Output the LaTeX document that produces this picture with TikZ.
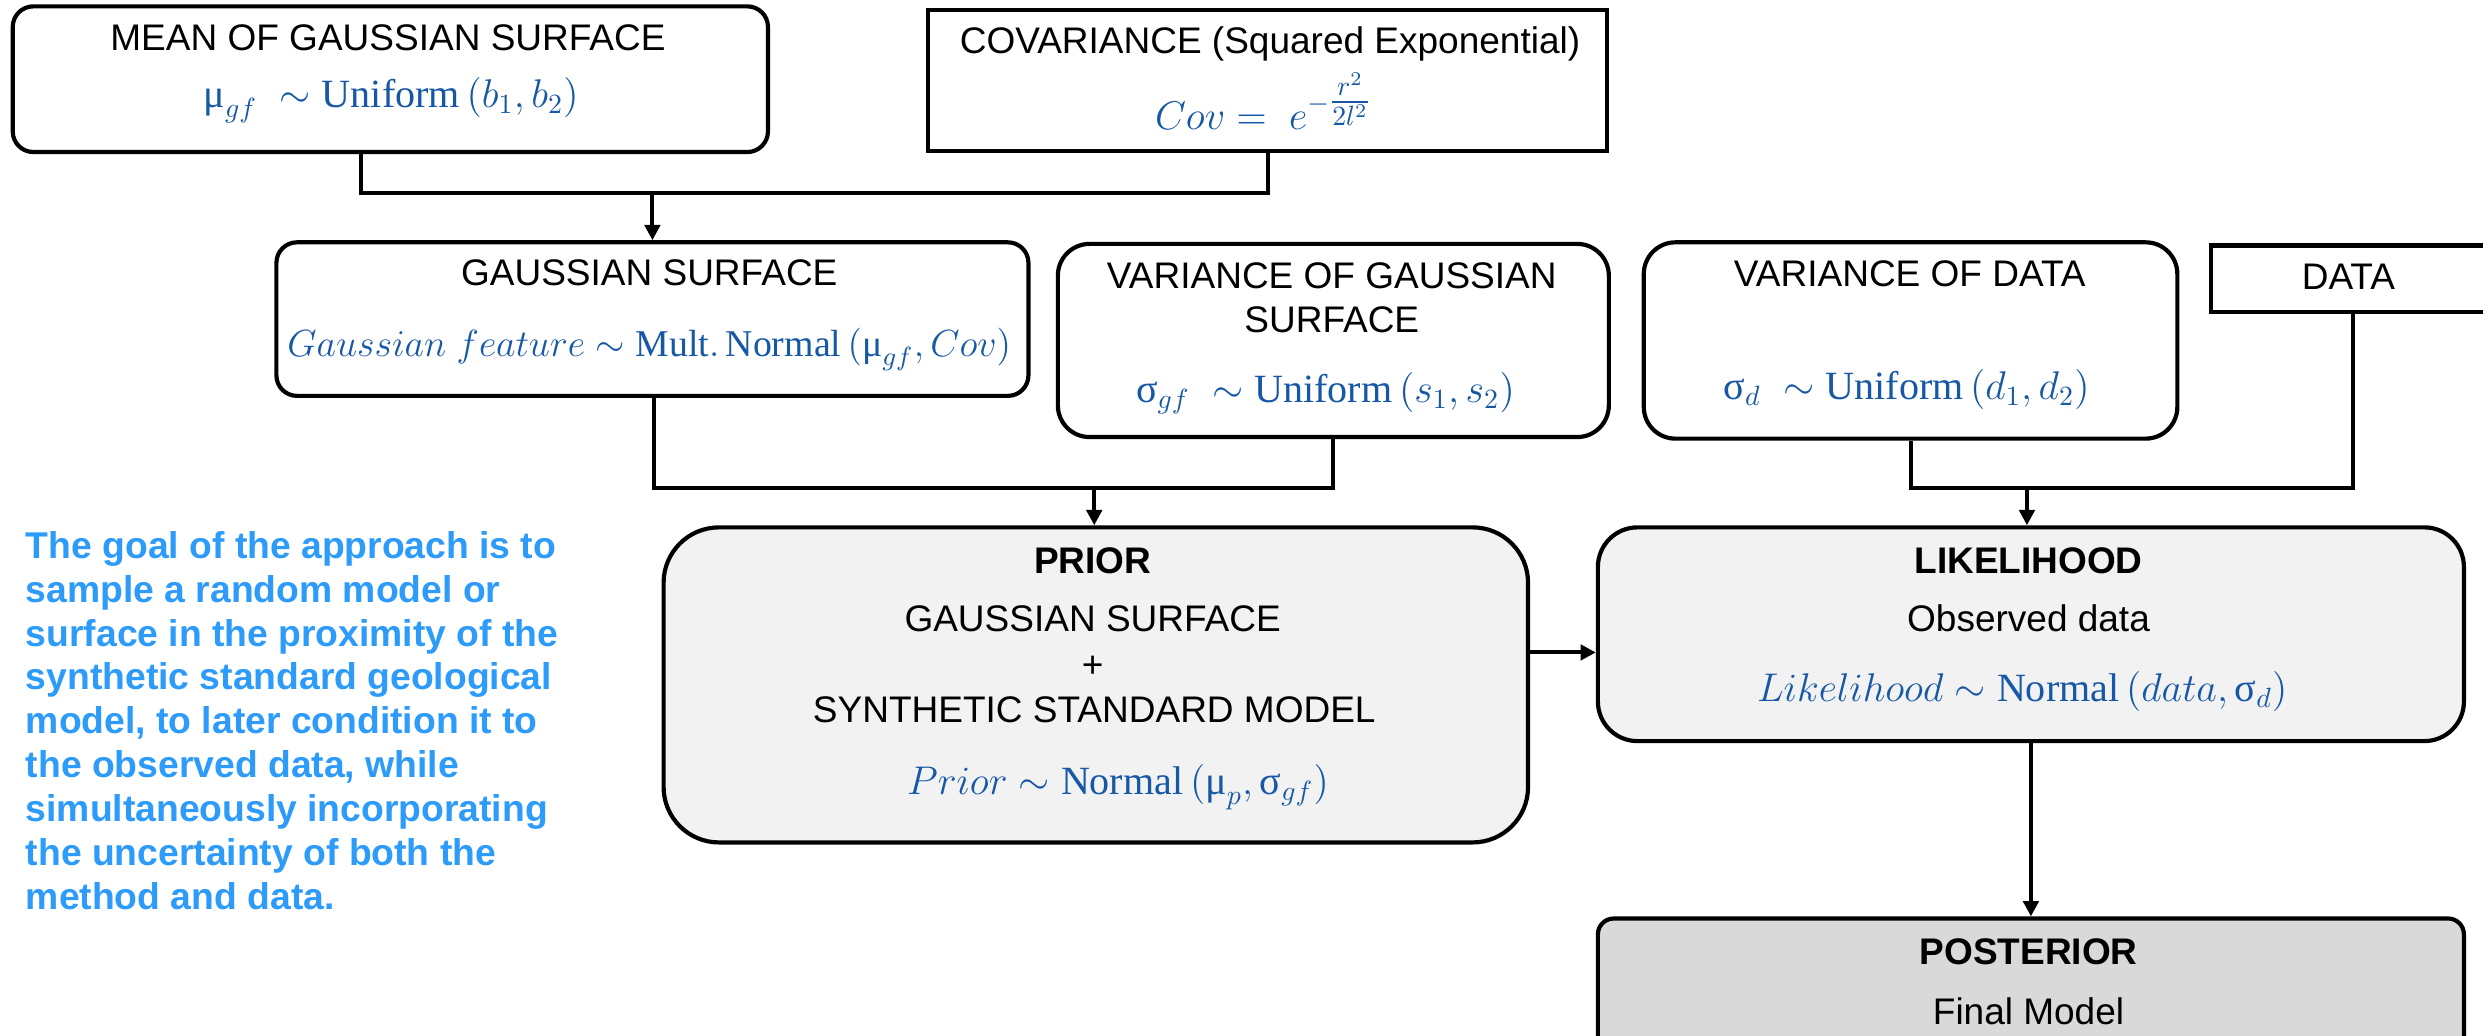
\RequirePackage{fix-cm}
\documentclass[tikz,border=0pt]{standalone}
\usepackage{amsmath}
\usepackage{fontspec}
\setmainfont{Liberation Sans}
\setmathrm{Liberation Serif}
\newfontfamily\grk{Liberation Serif}
\usetikzlibrary{arrows.meta}
\newcommand{\gmu}{\mbox{\grk μ}}
\newcommand{\gsig}{\mbox{\grk σ}}
\definecolor{formblue}{RGB}{22,88,165}
\definecolor{notblue}{RGB}{45,155,250}
\definecolor{lightfill}{RGB}{242,242,242}
\definecolor{darkfill}{RGB}{217,217,217}
\tikzset{
  boxst/.style={draw, line width=1.5pt, inner sep=0pt, rounded corners=#1},
  ttl/.style={font=\fontsize{13.3}{16}\selectfont, anchor=base, inner sep=0pt},
  bttl/.style={font=\fontsize{13.3}{16}\selectfont\bfseries, anchor=base, inner sep=0pt},
  frm/.style={font=\fontsize{14.4}{16}\selectfont, text=formblue, anchor=base, inner sep=0pt},
  conn/.style={line width=1.4pt},
  arr/.style={line width=1.4pt, -{Triangle[length=5.5pt,width=5.5pt]}},
}
\begin{document}
\begin{tikzpicture}[x=0.02cm, y=-0.02cm]
\fill[white] (0,0) rectangle (1568,654);
\clip (0,0) rectangle (1568,654);
% top row
\node[boxst=0.26cm, minimum width=9.54cm, minimum height=1.84cm] (mean) at (246.5,50) {};
\node[boxst=0cm, minimum width=8.58cm, minimum height=1.78cm] (cov) at (800.5,51) {};
% second row
\node[boxst=0.26cm, minimum width=9.5cm, minimum height=1.94cm] (gauss) at (412,201.5) {};
\node[boxst=0.4cm, minimum width=6.96cm, minimum height=2.44cm] (varg) at (842,215) {};
\node[boxst=0.4cm, minimum width=6.74cm, minimum height=2.48cm] (vard) at (1206.5,215) {};
\node[boxst=0cm, minimum width=4.6cm, minimum height=0.84cm] (data) at (1511,176) {};
% third row
\node[boxst=0.7cm, fill=lightfill, minimum width=10.92cm, minimum height=3.98cm] (prior) at (692,432.5) {};
\node[boxst=0.5cm, fill=lightfill, minimum width=10.94cm, minimum height=2.7cm] (lik) at (1282.5,400.5) {};
\node[boxst=0.2cm, fill=darkfill, minimum width=10.94cm, minimum height=2.4cm] (post) at (1282.5,640) {};
% texts
\node[ttl] (meant) at (245,32) {MEAN OF GAUSSIAN SURFACE};
\node[frm] (meanf) at (247,68) {$\gmu_{gf}\ \sim \mathrm{Uniform}\,(b_1, b_2)$};
\node[ttl] (covt) at (802,34) {COVARIANCE (Squared Exponential)};
\node[frm] (covf) at (798,82) {$Cov =\ e^{-\genfrac{}{}{}{1}{r^2}{2l^2}}$};
\node[ttl] (gausst) at (410,180) {GAUSSIAN SURFACE};
\node[frm, font=\fontsize{13.6}{16}\selectfont] (gaussf) at (410,225) {$Gaussian\ feature \sim \mathrm{Mult.\,Normal}\,(\gmu_{gf}, Cov)$};
\node[ttl] (vargt1) at (841,182) {VARIANCE OF GAUSSIAN};
\node[ttl] (vargt2) at (841,210) {SURFACE};
\node[frm] (vargf) at (837,254) {$\gsig_{gf}\ \sim \mathrm{Uniform}\,(s_1, s_2)$};
\node[ttl] (vardt) at (1206,181) {VARIANCE OF DATA};
\node[frm] (vardf) at (1204,252) {$\gsig_{d}\ \sim \mathrm{Uniform}\,(d_1, d_2)$};
\node[ttl] (datat) at (1483,183) {DATA};
\node[bttl] (priort) at (690,362) {PRIOR};
\node[ttl] (priorg) at (690,399) {GAUSSIAN SURFACE};
\node[ttl] (priorp) at (690,428) {+};
\node[ttl] (priors) at (691,456) {SYNTHETIC STANDARD MODEL};
\node[frm] (priorf) at (706,502) {$Prior \sim \mathrm{Normal}\,(\gmu_p, \gsig_{gf})$};
\node[bttl] (likt) at (1281,362) {LIKELIHOOD};
\node[ttl] (liko) at (1281,399) {Observed data};
\node[frm] (likf) at (1277,443) {$Likelihood \sim \mathrm{Normal}\,(data, \gsig_d)$};
\node[bttl] (postt) at (1281,609) {POSTERIOR};
\node[ttl] (postf) at (1281,647) {Final Model};
% note
\node[font=\fontsize{13.4}{15.8}\selectfont\bfseries, text=notblue, align=left, anchor=north west, inner sep=0pt] (note) at (16,335) {The goal of the approach is to\\sample a random model or\\surface in the proximity of the\\synthetic standard geological\\model, to later condition it to\\the observed data, while\\simultaneously incorporating\\the uncertainty of both the\\method and data.};
% connectors
\coordinate (jm) at (228,122);
\coordinate (jc) at (801,122);
\coordinate (jg) at (412,122);
\draw[conn] (mean.south -| jm) -- (jm) -- (jc) -- (cov.south -| jc);
\draw[arr] (jg) -- (gauss.north -| jg);
\coordinate (kg) at (413,308);
\coordinate (kv) at (842,308);
\coordinate (kp) at (691,308);
\draw[conn] (gauss.south -| kg) -- (kg) -- (kv) -- (varg.south -| kv);
\draw[arr] (kp) -- (prior.north -| kp);
\coordinate (kd) at (1207,308);
\coordinate (ka) at (1486,308);
\coordinate (kl) at (1280,308);
\draw[conn] (vard.south -| kd) -- (kd) -- (ka) -- (data.south -| ka);
\draw[arr] (kl) -- (lik.north -| kl);
\coordinate (pa) at (965,412);
\draw[arr] (prior.east |- pa) -- (lik.west |- pa);
\draw[arr] (lik.south) -- (post.north);
\end{tikzpicture}
\end{document}
